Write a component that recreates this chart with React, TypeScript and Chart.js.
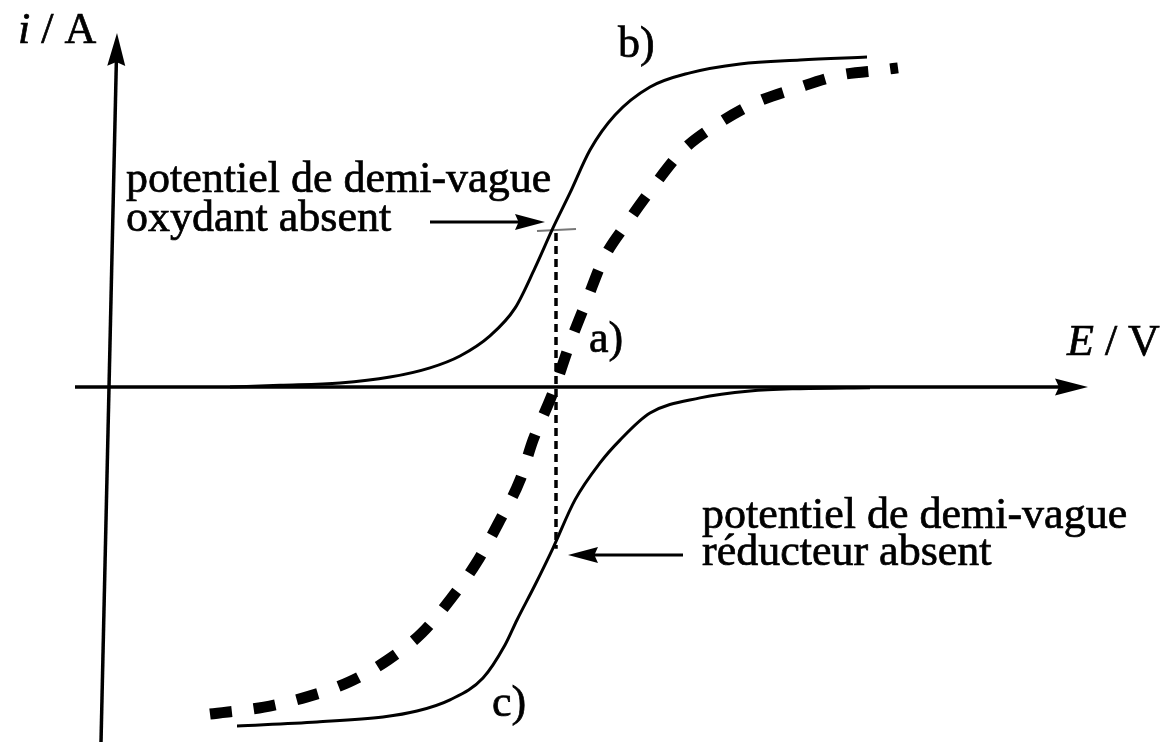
import React, { useEffect, useRef } from "react";
import { Chart, registerables } from "chart.js";

Chart.register(...registerables);

// Curve b) : oxydant absent (solid, upper wave)
const waveB_E = [1.21, 1.71, 2.31, 2.81, 3.21, 3.51, 3.81, 4.06, 4.26, 4.44, 4.61, 4.81, 5.06, 5.41, 5.81, 6.31, 6.91, 7.58];
const waveB_i = [0.0, 0.005, 0.012, 0.03, 0.058, 0.094, 0.155, 0.239, 0.361, 0.482, 0.588, 0.718, 0.824, 0.909, 0.952, 0.979, 0.991, 1.0];

// Curve c) : réducteur absent (solid, lower wave)
const waveC_E = [1.28, 2.08, 2.74, 3.08, 3.41, 3.74, 3.96, 4.08, 4.26, 4.44, 4.66, 4.91, 5.11, 5.41, 5.91, 6.41, 6.91, 7.61];
const waveC_i = [-1.027, -1.015, -1.0, -0.982, -0.948, -0.882, -0.782, -0.706, -0.6, -0.488, -0.342, -0.23, -0.161, -0.079, -0.033, -0.012, -0.005, -0.002];

// Curve a) : both species present (thick dashed)
const waveA_E = [1.01, 1.55, 1.98, 2.4, 2.79, 3.13, 3.41, 3.68, 3.91, 4.11, 4.24, 4.41, 4.46, 4.61, 4.78, 4.94, 5.18, 5.44, 5.74, 6.04, 6.46, 6.88, 7.31, 7.74, 7.89];
const waveA_i = [-0.991, -0.97, -0.939, -0.894, -0.827, -0.745, -0.645, -0.53, -0.403, -0.282, -0.161, -0.039, 0.0, 0.133, 0.264, 0.385, 0.497, 0.606, 0.718, 0.788, 0.861, 0.906, 0.945, 0.961, 0.967];

// Half-wave potential guide (dotted vertical)
const halfWave_E = [4.47, 4.47];
const halfWave_i = [0.467, -0.49];

// small pencil mark at the upper half-wave point
const mark_E = [4.28, 4.67];
const mark_i = [0.473, 0.479];

const xMin = -1.09;
const xMax = 10.67;
const yMin = -1.1;
const yMax = 1.1727;

const toPts = (xs: number[], ys: number[]) => xs.map((x, k) => ({ x, y: ys[k] }));

const FONT = "44px 'Liberation Serif', 'Times New Roman', serif";
const FONT_I = "italic 44px 'Liberation Serif', 'Times New Roman', serif";

const overlay = {
  id: "overlay",
  afterDatasetsDraw(chart: any) {
    const ctx = chart.ctx as CanvasRenderingContext2D;
    const sx = chart.scales.x;
    const sy = chart.scales.y;
    const px = (v: number) => sx.getPixelForValue(v);
    const py = (v: number) => sy.getPixelForValue(v);

    const arrow = (x0: number, y0: number, x1: number, y1: number, w: number, hl: number, hw: number) => {
      const ax0 = px(x0), ay0 = py(y0), ax1 = px(x1), ay1 = py(y1);
      const ang = Math.atan2(ay1 - ay0, ax1 - ax0);
      const bx = ax1 - hl * Math.cos(ang);
      const by = ay1 - hl * Math.sin(ang);
      ctx.save();
      ctx.strokeStyle = "#000";
      ctx.fillStyle = "#000";
      ctx.lineWidth = w;
      ctx.lineCap = "butt";
      ctx.beginPath();
      ctx.moveTo(ax0, ay0);
      ctx.lineTo(bx + 6 * Math.cos(ang), by + 6 * Math.sin(ang));
      ctx.stroke();
      ctx.beginPath();
      ctx.moveTo(ax1, ay1);
      ctx.lineTo(bx + hw * Math.sin(ang), by - hw * Math.cos(ang));
      ctx.lineTo(bx + 0.12 * hl * Math.cos(ang), by + 0.12 * hl * Math.sin(ang));
      ctx.lineTo(bx - hw * Math.sin(ang), by + hw * Math.cos(ang));
      ctx.closePath();
      ctx.fill();
      ctx.restore();
    };

    // axes
    arrow(-0.34, 0, 9.79, 0, 3.5, 33, 8.5);
    arrow(-0.08, -1.076, 0.08, 1.073, 3.5, 33, 9);

    // annotation arrows
    arrow(3.21, 0.5, 4.36, 0.5, 3, 30, 8);
    arrow(5.74, -0.509, 4.59, -0.509, 3, 30, 8);

    // texts
    ctx.save();
    ctx.fillStyle = "#000";
    ctx.strokeStyle = "#000";
    ctx.lineWidth = 0.7;
    ctx.textBaseline = "alphabetic";
    ctx.textAlign = "left";
    const put = (s: string, X: number, Y: number, f: string) => {
      ctx.font = f;
      ctx.fillText(s, X, Y);
      ctx.strokeText(s, X, Y);
    };
    const txt = (s: string, x: number, y: number, f = FONT) => put(s, px(x), py(y), f);
    // i / A
    ctx.font = FONT_I;
    const wI = ctx.measureText("i").width;
    txt("i", -0.91, 1.042, FONT_I);
    put(" / A", px(-0.91) + wI, py(1.042), FONT);
    // E / V
    ctx.font = FONT_I;
    const wE = ctx.measureText("E").width;
    txt("E", 9.58, 0.097, FONT_I);
    put(" / V", px(9.58) + wE, py(0.097), FONT);

    txt("b)", 5.09, 1.0);
    txt("a)", 4.8, 0.106);
    txt("c)", 3.83, -0.997);
    txt("potentiel de demi-vague", 0.17, 0.591);
    txt("oxydant absent", 0.17, 0.473);
    txt("potentiel de demi-vague", 5.93, -0.427);
    txt("réducteur absent", 5.93, -0.539);
    ctx.restore();
  },
};

export default function App() {
  const ref = useRef<HTMLCanvasElement | null>(null);
  useEffect(() => {
    if (!ref.current) return;
    const chart = new Chart(ref.current, {
      type: "line",
      data: {
        datasets: [
          {
            label: "a)",
            data: toPts(waveA_E, waveA_i),
            borderColor: "#000",
            borderWidth: 11,
            borderDash: [22, 22],
            borderCapStyle: "butt",
            pointRadius: 0,
            cubicInterpolationMode: "monotone",
            fill: false,
          },
          {
            label: "b)",
            data: toPts(waveB_E, waveB_i),
            borderColor: "#000",
            borderWidth: 3,
            pointRadius: 0,
            cubicInterpolationMode: "monotone",
            fill: false,
          },
          {
            label: "c)",
            data: toPts(waveC_E, waveC_i),
            borderColor: "#000",
            borderWidth: 3,
            pointRadius: 0,
            cubicInterpolationMode: "monotone",
            fill: false,
          },
          {
            label: "E1/2",
            data: toPts(halfWave_E, halfWave_i),
            borderColor: "#000",
            borderWidth: 3.5,
            borderDash: [8, 5],
            borderCapStyle: "butt",
            pointRadius: 0,
            fill: false,
          },
          {
            label: "mark",
            data: toPts(mark_E, mark_i),
            borderColor: "#777",
            borderWidth: 2,
            pointRadius: 0,
            fill: false,
          },
        ],
      },
      options: {
        responsive: false,
        animation: false,
        devicePixelRatio: 1,
        layout: { padding: 0 },
        parsing: false as any,
        plugins: {
          legend: { display: false },
          tooltip: { enabled: false },
          title: { display: false },
        },
        scales: {
          x: { type: "linear", min: xMin, max: xMax, display: false },
          y: { type: "linear", min: yMin, max: yMax, display: false },
        },
      },
      plugins: [overlay],
    });
    return () => chart.destroy();
  }, []);

  return (
    <div style={{ position: "fixed", left: 0, top: 0, width: 1176, height: 750, background: "#fff" }}>
      <canvas ref={ref} width={1176} height={750} style={{ display: "block", width: 1176, height: 750 }} />
    </div>
  );
}
